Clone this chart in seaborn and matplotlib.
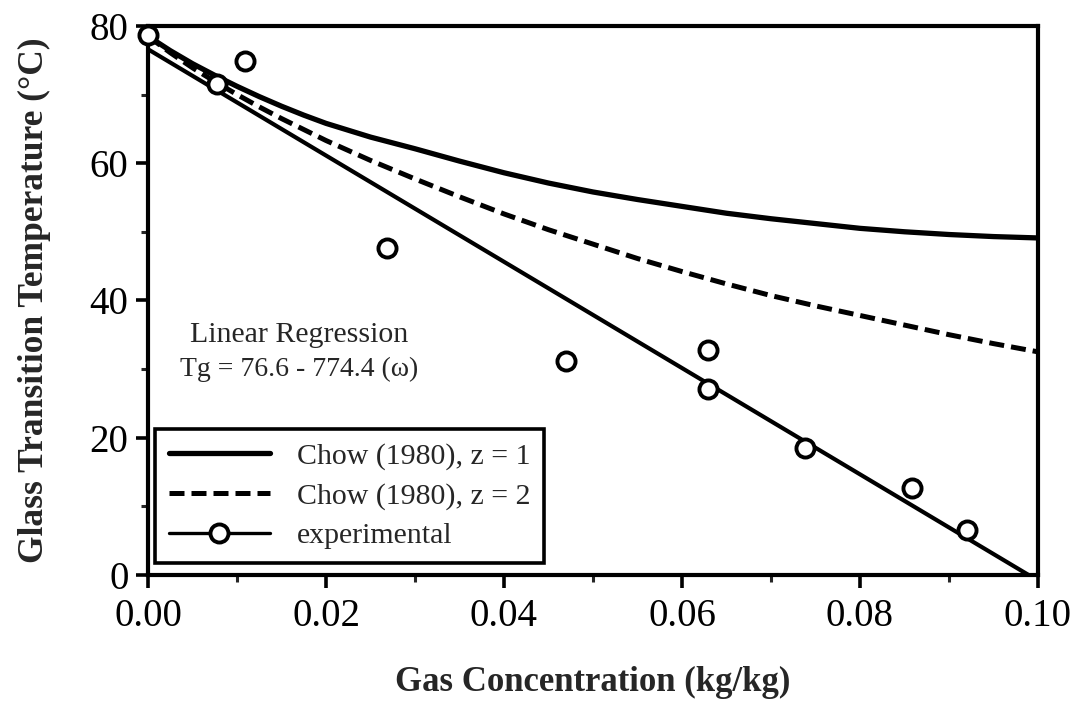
import numpy as np
import pandas as pd
import matplotlib
matplotlib.use("Agg")
import matplotlib.pyplot as plt
from matplotlib.lines import Line2D
import seaborn as sns

# ---- data ----
chow1_x = [0.0, 0.0025, 0.005, 0.0075, 0.01, 0.0125, 0.015, 0.0175, 0.02, 0.025, 0.03,
           0.035, 0.04, 0.045, 0.05, 0.055, 0.06, 0.065, 0.07, 0.075, 0.08, 0.085,
           0.09, 0.095, 0.10]
chow1_y = [78.5, 76.4, 74.5, 72.8, 71.2, 69.7, 68.3, 67.0, 65.8, 63.8, 62.1,
           60.3, 58.6, 57.1, 55.8, 54.7, 53.7, 52.7, 51.9, 51.2, 50.5, 50.0,
           49.6, 49.3, 49.1]

chow2_x = [0.0, 0.0025, 0.005, 0.0075, 0.01, 0.0125, 0.015, 0.0175, 0.02, 0.025, 0.03,
           0.035, 0.04, 0.045, 0.05, 0.055, 0.06, 0.065, 0.07, 0.075, 0.08, 0.085,
           0.09, 0.095, 0.10]
chow2_y = [78.5, 76.1, 73.9, 71.9, 70.0, 68.2, 66.5, 64.9, 63.3, 60.4, 57.7,
           55.1, 52.6, 50.3, 48.2, 46.1, 44.2, 42.4, 40.7, 39.2, 37.8, 36.4,
           35.0, 33.7, 32.5]

exp_x = [0.0, 0.0077, 0.0109, 0.0269, 0.047, 0.0629, 0.0629, 0.0738, 0.0858, 0.092]
exp_y = [78.7, 71.5, 74.9, 47.6, 31.2, 32.7, 27.1, 18.5, 12.6, 6.5]

reg_intercept = 76.6
reg_slope = -774.4
reg_x = [0.0, 0.0989]
reg_y = [reg_intercept + reg_slope * v for v in reg_x]

x_ticks = [0.00, 0.02, 0.04, 0.06, 0.08, 0.10]
x_ticklabels = ["0.00", "0.02", "0.04", "0.06", "0.08", "0.10"]
y_ticks = [0, 20, 40, 60, 80]

legend_labels = ["Chow (1980), z = 1", "Chow (1980), z = 2", "experimental"]
annot_lines = ["Linear Regression", "Tg = 76.6 - 774.4 (\u03c9)"]
x_label = "Gas Concentration (kg/kg)"
y_label = "Glass Transition Temperature (\u00b0C)"

# ---- style ----
sns.set_style("ticks")
plt.rcParams["font.family"] = ["Liberation Serif", "DejaVu Serif"]

fig = plt.figure(figsize=(10.82, 7.01), dpi=100)
ax = fig.add_axes([0.1368, 0.180, 0.8225, 0.783])

df1 = pd.DataFrame({"x": chow1_x, "y": chow1_y})
df2 = pd.DataFrame({"x": chow2_x, "y": chow2_y})
dfr = pd.DataFrame({"x": reg_x, "y": reg_y})
dfe = pd.DataFrame({"x": exp_x, "y": exp_y})

sns.lineplot(data=df1, x="x", y="y", ax=ax, color="black", linewidth=3.8, sort=True)
sns.lineplot(data=df2, x="x", y="y", ax=ax, color="black", linewidth=3.6, sort=True)
ax.lines[-1].set_dashes((3.0, 1.4))
sns.lineplot(data=dfr, x="x", y="y", ax=ax, color="black", linewidth=3.0)
sns.scatterplot(data=dfe, x="x", y="y", ax=ax, marker="o", s=170,
                facecolor="white", edgecolor="black", linewidth=2.8, zorder=5,
                clip_on=False)

ax.set_xlim(0, 0.10)
ax.set_ylim(0, 80)
ax.set_xticks(x_ticks)
ax.set_xticklabels(x_ticklabels)
ax.set_yticks(y_ticks)
ax.set_xticks(np.arange(0.01, 0.10, 0.02), minor=True)
ax.set_yticks([10, 30, 50, 70], minor=True)

for s in ax.spines.values():
    s.set_visible(True)
    s.set_linewidth(3.0)
    s.set_color("black")

ax.tick_params(axis="both", which="major", direction="out", length=9, width=2.6,
               labelsize=28, pad=5, colors="black")
ax.tick_params(axis="both", which="minor", direction="out", length=5, width=2.2)
ax.tick_params(axis="x", which="major", pad=8)

ax.set_xlabel(x_label, fontsize=25, fontweight="bold", labelpad=22)
ax.set_ylabel(y_label, fontsize=25.5, fontweight="bold", labelpad=28)

ax.text(0.017, 34.9, annot_lines[0], ha="center", va="center", fontsize=21.5)
ax.text(0.017, 30.0, annot_lines[1], ha="center", va="center", fontsize=20)

handles = [
    Line2D([0], [0], color="black", linewidth=3.8),
    Line2D([0], [0], color="black", linewidth=3.6, dashes=(3.0, 1.4)),
    Line2D([0], [0], color="black", linewidth=2.4, marker="o", markersize=13,
           markerfacecolor="white", markeredgecolor="black", markeredgewidth=2.8),
]
leg = ax.legend(handles, legend_labels, loc="lower left", bbox_to_anchor=(0.008, 0.022),
                borderaxespad=0, fontsize=21.5, handlelength=3.4, handletextpad=0.9,
                labelspacing=0.42, frameon=True, fancybox=False, borderpad=0.45)
leg.get_frame().set_edgecolor("black")
leg.get_frame().set_linewidth(2.6)
leg.get_frame().set_facecolor("white")
leg.get_frame().set_alpha(1)

ax.grid(False)
fig.savefig("out.png", dpi=100)
